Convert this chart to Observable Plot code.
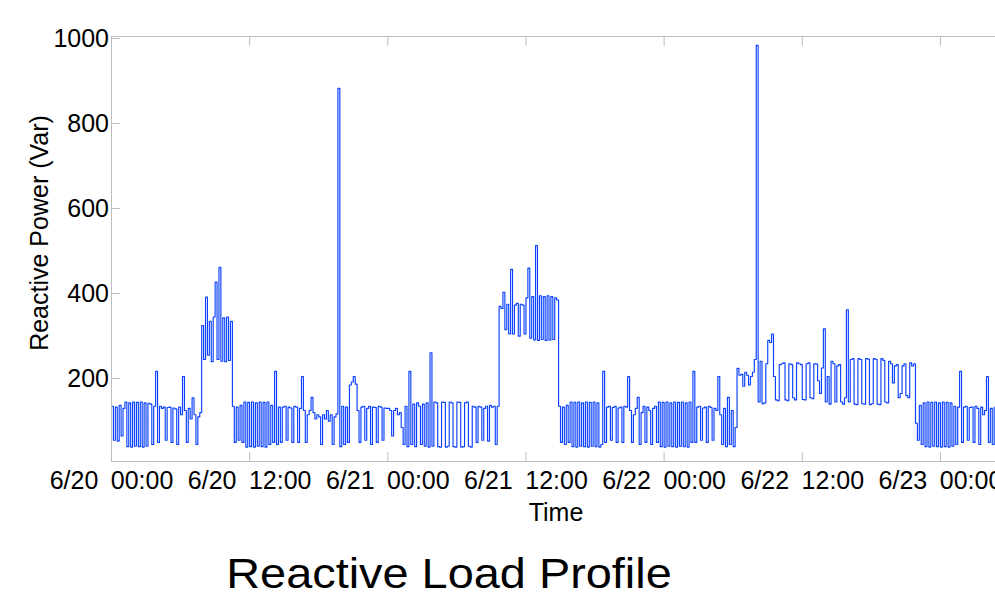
<!DOCTYPE html>
<html>
<head>
<meta charset="utf-8">
<script src="https://cdn.jsdelivr.net/npm/d3@7"></script>
<script src="https://cdn.jsdelivr.net/npm/@observablehq/plot@0.6"></script>
<style>
  html, body { margin: 0; padding: 0; background: #fff; }
  body { width: 995px; height: 597px; overflow: hidden; font-family: "Liberation Sans", Arial, Helvetica, sans-serif; }
  #chart svg { display: block; }
  #title { width: 898px; text-align: center; font-size: 43px; line-height: 43px; margin-top: 17px;
           transform: scaleX(1.09); transform-origin: 50% 50%; color: #000; white-space: nowrap; }
</style>
</head>
<body>
<div id="chart"></div>
<div id="title"></div>
<script>
// ---- Data (reactive power in Var, one sample every 10 minutes from 6/20 00:00) ----
const startTime = "2014-06-20T00:00:00Z";
const endTime = "2014-06-23T04:47:00Z";
const stepMinutes = 10;

// 6/20 00:00 - 12:00
const seg1 = [130, 50, 128, 48, 132, 60, 125,
  140, 35, 138, 34, 140, 36, 139, 35, 140, 34, 138, 36, 137,
  135, 40, 130, 212, 45, 130,
  125, 128, 50, 127, 128, 45, 126, 124, 40, 128, 110, 200, 120, 45, 125, 100, 150, 110, 40, 105, 115,
  320, 240, 387, 250, 330, 235, 340, 422, 240, 457, 236, 338, 235, 340, 238, 330,
  130, 45, 128, 50, 132, 45, 140, 34, 139];
// 6/20 12:00 - 6/21 00:00
const seg2 = [35, 140, 34, 138, 36, 140, 35, 139, 34, 140,
  40, 132, 45, 212, 40, 128, 45,
  128, 130, 50, 128, 126, 45, 130, 128, 45, 125, 200, 120, 45, 110, 120, 151, 115, 100, 110, 105, 40, 110, 100, 120, 95, 110, 40, 105, 112,
  878,
  35, 130, 40, 128, 45,
  180, 187, 200, 182, 120,
  45, 128, 130, 50, 125, 130, 40, 128, 127, 45, 130, 128, 50, 126, 125];
// 6/21 00:00 - 12:00
const seg3 = [125, 120, 60, 120, 125, 110, 115,
  80, 40, 130, 35, 212, 40, 135, 35, 138, 130, 40, 135, 36, 138,
  34, 256, 36,
  140, 138, 35, 34, 140, 139, 34, 36, 140, 138, 35, 34, 140, 139, 34, 35, 138, 140, 36, 34, 130,
  128, 45, 130, 128, 50, 125, 130, 48, 132, 128, 130, 40, 130,
  365, 360, 398, 310, 370, 300, 452, 300, 368, 372, 295, 370, 368, 300];
// 6/21 12:00 - 6/22 00:00
const seg4 = [385, 455, 290, 388, 286, 508, 285, 390, 287, 388, 285, 390, 286, 388, 287, 385, 380,
  130, 45, 128, 40, 132, 45,
  140, 35, 139, 34, 140, 36, 138, 35, 140, 34, 139, 36, 140, 35, 138, 34, 40,
  212,
  45, 128, 130, 50, 127, 130, 45, 126, 128, 45, 130, 128,
  200,
  120, 45, 110, 125, 151, 40, 115, 130, 45, 128, 120, 40, 125, 130, 45,
  140, 35, 139];
// 6/22 00:00 - 12:00
const seg5 = [34, 140, 36, 138, 35, 140, 34, 139, 36, 140, 35, 138, 34, 140, 45,
  212,
  45, 128, 130, 50, 126, 128, 45, 130, 127, 50, 125, 120,
  200,
  110, 40, 125, 35, 151, 40, 120, 35, 80,
  219, 203, 205, 177, 210, 203, 180, 200, 210, 240,
  979,
  140, 236, 136, 138, 230,
  285, 280, 300, 200,
  145, 143, 228, 230, 232, 145, 143, 230, 228, 150, 145, 232, 230, 228];
// 6/22 12:00 - 6/23 00:00
const seg6 = [146, 145, 230, 232, 150, 148, 230, 229,
  190, 160, 220, 312, 140, 200, 135, 236, 230, 140, 225, 228, 140,
  135, 150, 357,
  140, 240, 242, 135, 134, 242, 240, 136, 135, 242, 241, 134, 136, 242, 240, 135, 134, 242, 238, 140, 138, 236,
  230, 185, 225, 228, 150, 160, 225, 230, 155, 150, 232, 225, 230,
  90, 50, 132, 40, 138, 35, 140, 34, 139, 36, 140, 35, 138];
// 6/23 00:00 - 04:40
const seg7 = [34, 140, 35, 139, 34, 138, 36, 130, 40, 128,
  212,
  45, 128, 130, 50, 127, 128, 45, 130, 125, 40, 128, 110, 120, 200, 45, 125, 40, 128];

// ---- Axis ticks and labels ----
const xTickTimes = ["2014-06-20T00:00:00Z", "2014-06-20T12:00:00Z", "2014-06-21T00:00:00Z",
  "2014-06-21T12:00:00Z", "2014-06-22T00:00:00Z", "2014-06-22T12:00:00Z", "2014-06-23T00:00:00Z"];
const yTicks = [200, 400, 600, 800, 1000];
const xLabel = "Time";
const yLabel = "Reactive Power (Var)";
const chartTitle = "Reactive Load Profile";

// ---- Build table ----
const values = [...seg1, ...seg2, ...seg3, ...seg4, ...seg5, ...seg6, ...seg7];
const t0 = new Date(startTime).getTime();
const data = values.map((v, i) => ({time: new Date(t0 + i * stepMinutes * 60000), value: v}));
const xTicks = xTickTimes.map(s => new Date(s));
const fmtDate = d3.utcFormat("%-m/%d");
const fmtTime = d3.utcFormat("%H:%M");
const tickFmt = d => fmtDate(d) + "\u2002" + fmtTime(d);

const axisGrey = "#bdbdbd";
const lineBlue = "#0a40ff";

const plot = Plot.plot({
  width: 995,
  height: 535,
  marginLeft: 111,
  marginRight: 0,
  marginTop: 36,
  marginBottom: 74,
  style: {fontFamily: "'Liberation Sans', Arial, Helvetica, sans-serif", fontSize: "25px", color: "#000", background: "#fff", overflow: "visible"},
  x: {type: "utc", domain: [new Date(startTime), new Date(endTime)]},
  y: {domain: [0, 1000]},
  marks: [
    Plot.lineY(data, {x: "time", y: "value", stroke: lineBlue, strokeWidth: 1.15, curve: "step-after"}),
    Plot.ruleY([0, 1000], {stroke: axisGrey, strokeWidth: 1}),
    Plot.ruleX([new Date(startTime)], {stroke: axisGrey, strokeWidth: 1}),
    Plot.axisX({ticks: xTicks, tickSize: -9, tickPadding: 18.5, tickFormat: tickFmt, stroke: axisGrey, fill: "#000", label: null}),
    Plot.axisX({anchor: "top", ticks: xTicks, tickSize: -9, tickFormat: () => "", stroke: axisGrey, label: null}),
    Plot.axisY({ticks: yTicks, tickSize: -9, tickPadding: 11.5, dy: 2, tickFormat: d => String(d), stroke: axisGrey, fill: "#000", label: null})
  ]
});

const svg = d3.select(plot);
svg.append("text")
  .attr("x", 556).attr("y", 521)
  .attr("text-anchor", "middle")
  .attr("fill", "#000")
  .text(xLabel);
svg.append("text")
  .attr("transform", "translate(47.5,233) rotate(-90)")
  .attr("text-anchor", "middle")
  .attr("fill", "#000")
  .text(yLabel);

document.getElementById("chart").appendChild(plot);
document.getElementById("title").textContent = chartTitle;
</script>
</body>
</html>
